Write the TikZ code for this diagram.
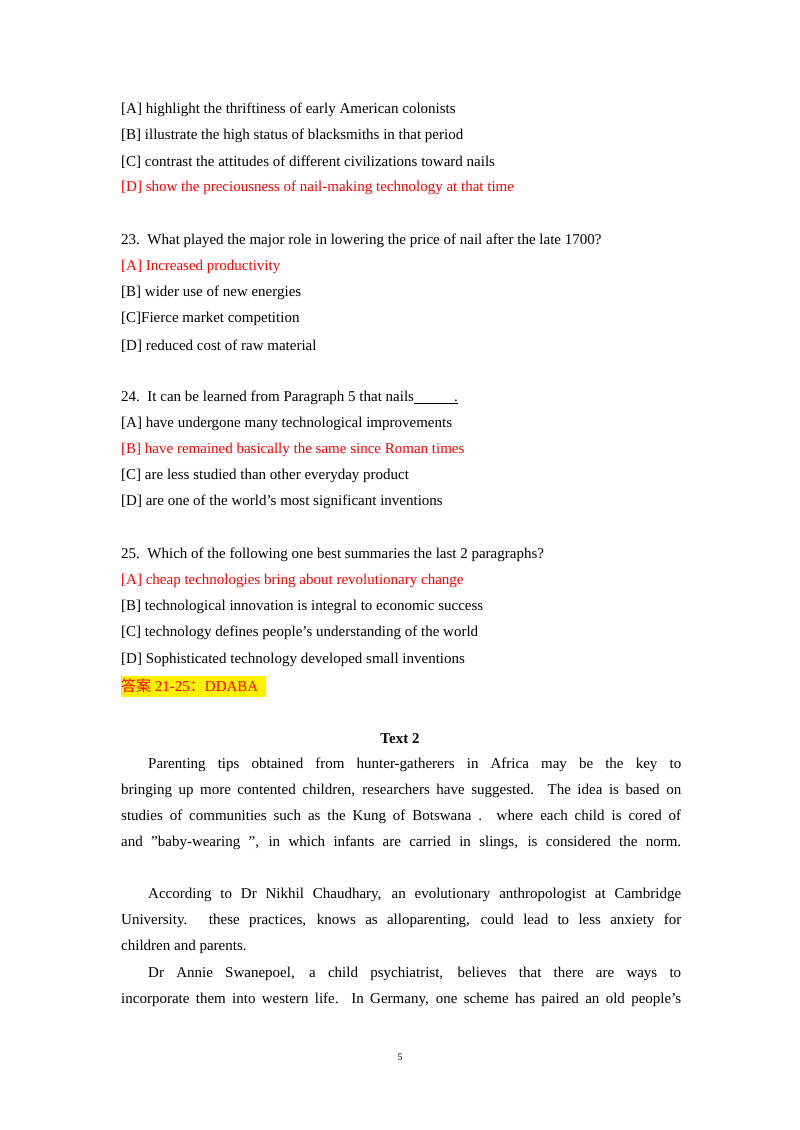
\documentclass[tikz,border=0pt]{standalone}
\usepackage{fontspec}
\setmainfont{Liberation Serif}
\newfontfamily\cjk{Noto Sans CJK SC}
\usepackage{xcolor}
\definecolor{ansred}{RGB}{255,0,0}
\begin{document}
\begin{tikzpicture}[x=1pt,y=1pt,
  ln/.style={anchor=west,inner sep=0pt,font=\fontsize{15}{26}\selectfont},
  rd/.style={ln,text=ansred},
  jl/.style={anchor=west,inner sep=0pt,text width=560pt,align=justify,font=\fontsize{15}{26}\selectfont}]
\useasboundingbox (0,0) rectangle (800,1130);
\fill[white] (0,0) rectangle (800,1130);
\def\Y#1{1130-#1}
\node[ln] (a1) at (121,\Y{110}) {[A] highlight the thriftiness of early American colonists};
\node[ln] (a2) at (121,\Y{136}) {[B] illustrate the high status of blacksmiths in that period};
\node[ln] (a3) at (121,\Y{162}) {[C] contrast the attitudes of different civilizations toward nails};
\node[rd] (a4) at (121,\Y{188}) {[D] show the preciousness of nail-making technology at that time};
\node[ln] (b0) at (121,\Y{241}) {23.\ \ What played the major role in lowering the price of nail after the late 1700?};
\node[rd] (b1) at (121,\Y{267}) {[A] Increased productivity};
\node[ln] (b2) at (121,\Y{293}) {[B] wider use of new energies};
\node[ln] (b3) at (121,\Y{319}) {[C]Fierce market competition};
\node[ln] (b4) at (121,\Y{346}) {[D] reduced cost of raw material};
\node[ln] (c0) at (121,\Y{398}) {24.\ \ It can be learned from Paragraph 5 that nails\underline{\hspace{40pt}.}};
\node[ln] (c1) at (121,\Y{424}) {[A] have undergone many technological improvements};
\node[rd] (c2) at (121,\Y{450}) {[B] have remained basically the same since Roman times};
\node[ln] (c3) at (121,\Y{476}) {[C] are less studied than other everyday product};
\node[ln] (c4) at (121,\Y{502}) {[D] are one of the world's most significant inventions};
\node[ln] (d0) at (121,\Y{555}) {25.\ \ Which of the following one best summaries the last 2 paragraphs?};
\node[rd] (d1) at (121,\Y{581}) {[A] cheap technologies bring about revolutionary change};
\node[ln] (d2) at (121,\Y{607}) {[B] technological innovation is integral to economic success};
\node[ln] (d3) at (121,\Y{633}) {[C] technology defines people's understanding of the world};
\node[ln] (d4) at (121,\Y{660}) {[D] Sophisticated technology developed small inventions};
\fill[yellow] (121,\Y{676}) rectangle (266,\Y{697});
\node[rd] (ans) at (121,\Y{686}) {{\cjk 答案} 21-25{\cjk ：}DDABA};
\node[inner sep=0pt,font=\fontsize{15}{26}\selectfont\bfseries] (t2) at (400,\Y{739}) {Text 2};
\node[jl] (p1) at (121,\Y{765}) {\hspace*{27pt}{\parfillskip=0pt Parenting tips obtained from hunter-gatherers in Africa may be the key to\par}};
\node[jl] (p2) at (121,\Y{791}) {{\parfillskip=0pt bringing up more contented children, researchers have suggested. The idea is based on\par}};
\node[jl] (p3) at (121,\Y{817}) {{\parfillskip=0pt studies of communities such as the Kung of Botswana . where each child is cored of\par}};
\node[jl] (p4) at (121,\Y{843}) {{\parfillskip=0pt and "baby-wearing ", in which infants are carried in slings, is considered the norm.\par}};
\node[jl] (q1) at (121,\Y{895}) {\hspace*{27pt}{\parfillskip=0pt According to Dr Nikhil Chaudhary, an evolutionary anthropologist at Cambridge\par}};
\node[jl] (q2) at (121,\Y{921}) {{\parfillskip=0pt University. these practices, knows as alloparenting, could lead to less anxiety for\par}};
\node[jl] (q3) at (121,\Y{947}) {children and parents.};
\node[jl] (r1) at (121,\Y{974}) {\hspace*{27pt}{\parfillskip=0pt Dr Annie Swanepoel, a child psychiatrist, believes that there are ways to\par}};
\node[jl] (r2) at (121,\Y{1000}) {{\parfillskip=0pt incorporate them into western life. In Germany, one scheme has paired an old people's\par}};
\node[inner sep=0pt,font=\fontsize{10}{12}\selectfont] (pg) at (400,\Y{1057}) {5};
\end{tikzpicture}
\end{document}
